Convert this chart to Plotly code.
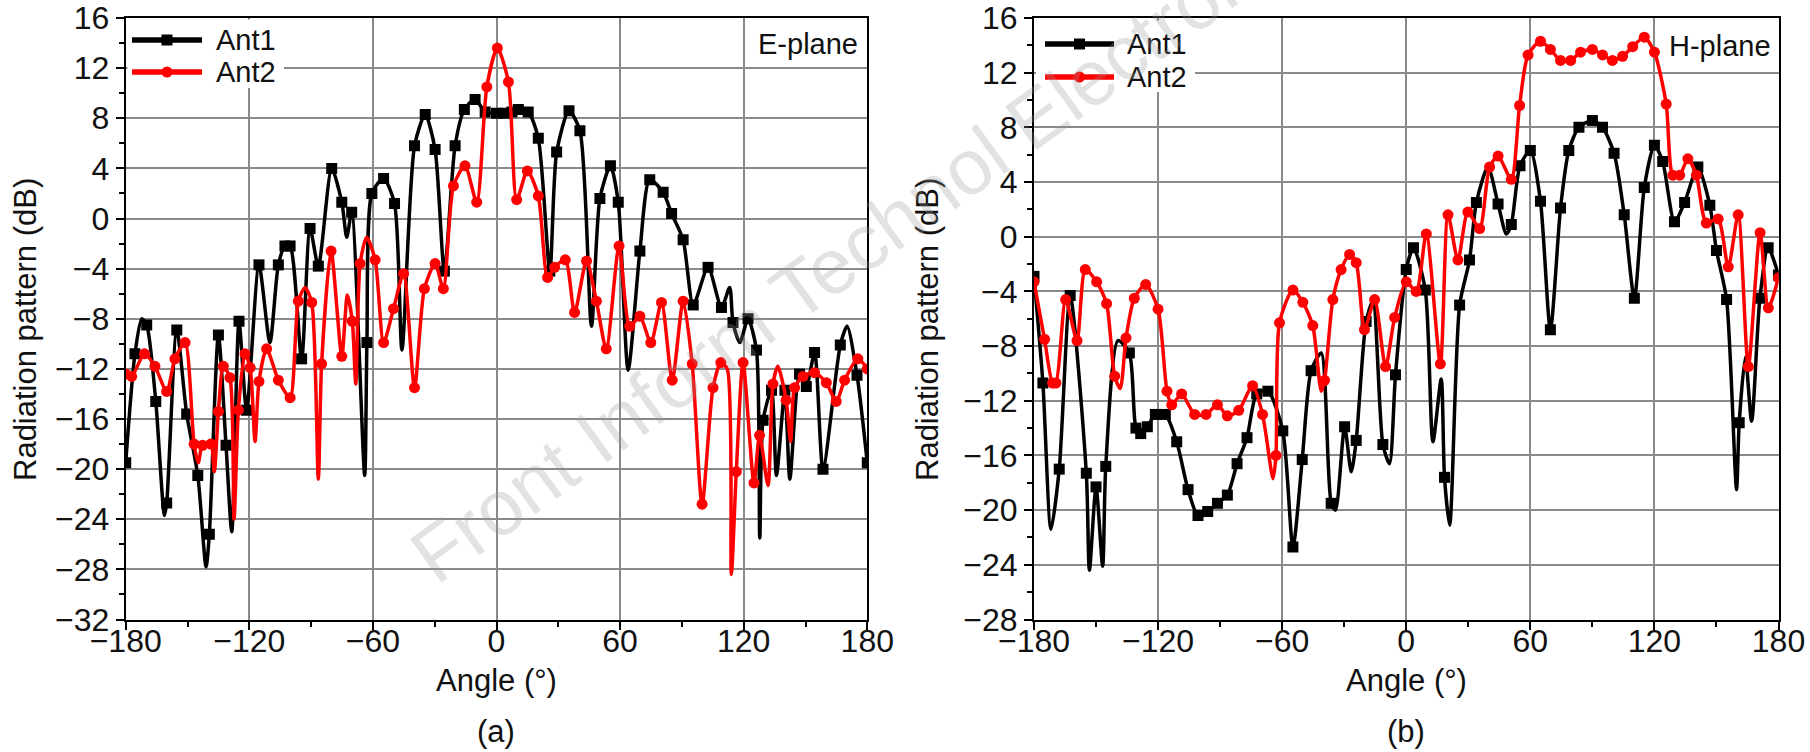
import plotly.graph_objects as go

FONT = "Liberation Sans, Arial, Helvetica, sans-serif"
W, H = 1810, 752

# ---------------- E-plane ----------------
# Ant1: sampled points (drawn with markers) and deep nulls between samples
e_ant1_deg = [-180, -175.5, -169.8, -165.4, -160.1, -155.2, -150.4, -145, -139.4, -135,
              -131.3, -125, -121.3, -115.3, -105.9, -102.7, -100.2, -94.6, -90.5, -86.5,
              -80, -75.1, -70.3, -62.9, -60.5, -54.8, -49.5, -39.8, -34.6, -29.8,
              -25.3, -20.1, -15.6, -10.4, -5.5, 0, 4, 7.5, 10.6, 15.4,
              20.3, 25.9, 29.2, 35.2, 40.5, 50.2, 55.3, 59.1, 69.6, 74.4,
              80.9, 85, 90.6, 95.5, 102.7, 109.2, 114.8, 122.1, 126.2, 129.4,
              133.5, 140, 147.1, 150.4, 154.4, 158.5, 166.9, 175, 180]
e_ant1_db = [-19.5, -10.8, -8.5, -14.6, -22.7, -8.9, -15.6, -20.5, -25.2, -9.3,
             -18.1, -8.2, -15.3, -3.7, -3.7, -2.2, -2.2, -11.2, -0.8, -3.8,
             4.0, 1.3, 0.5, -9.9, 2.0, 3.2, 1.2, 5.8, 8.3, 5.5,
             -4.2, 5.8, 8.7, 9.5, 8.5, 8.4, 8.4, 8.5, 8.7, 8.5,
             6.4, -4.2, 5.3, 8.6, 7.0, 1.6, 4.2, 1.3, -2.6, 3.1,
             2.1, 0.4, -1.7, -6.9, -3.9, -7.1, -8.3, -8.0, -10.5, -16.1,
             -13.7, -13.7, -12.4, -13.4, -10.7, -20.0, -10.1, -12.5, -19.5]
e_ant1_null_deg = [-172.2, -161.2, -141, -128.5, -110, -72.7, -64, -45.9, 46.1, 63.9,
                   113.2, 118.1, 127.8, 135.9, 142.4, 170.2]
e_ant1_null_db = [-8.0, -23.7, -27.8, -25.0, -9.9, -1.5, -20.5, -10.5, -8.6, -12.1,
                  -5.5, -9.9, -25.5, -20.5, -20.8, -8.6]

e_ant2_deg = [-180, -177.1, -170.9, -165.8, -160.1, -156.1, -151.2, -146.8, -142.7, -138.7,
              -135, -132.6, -129.4, -125.3, -122.1, -119.6, -115.3, -111.6, -105.9, -100.2,
              -96.2, -89.7, -84.9, -80.3, -75.1, -70, -66.2, -58.9, -54.8, -50,
              -45.1, -39.8, -35, -29.8, -25.8, -20.9, -15.3, -9.6, -4.7, 0.4,
              5.8, 9.8, 15, 20.3, 24.8, 28.2, 33.4, 37.9, 43.7, 48.5,
              53.3, 59.5, 64.7, 69.6, 74.9, 80.1, 85.3, 90.6, 95, 99.8,
              105.1, 108.9, 116.4, 119.7, 125, 127.7, 134.2, 140.6, 144.7, 148.8,
              154.4, 160.1, 164.9, 169, 175.4, 180]
e_ant2_db = [-12.4, -12.6, -10.8, -11.8, -13.8, -11.2, -9.9, -18.0, -18.1, -18.0,
             -15.4, -11.8, -12.7, -15.3, -10.8, -11.9, -13.0, -10.4, -12.9, -14.3,
             -6.6, -6.7, -11.6, -2.6, -11.0, -8.2, -3.6, -3.3, -9.9, -7.2,
             -4.4, -13.5, -5.6, -3.6, -5.6, 2.6, 4.2, 1.3, 10.5, 13.6,
             10.9, 1.5, 3.8, 1.8, -4.7, -3.9, -3.3, -7.5, -3.4, -6.6,
             -10.4, -2.2, -8.6, -7.8, -9.9, -6.7, -12.9, -6.6, -11.6, -22.8,
             -13.5, -11.5, -20.2, -11.5, -21.1, -17.3, -13.2, -14.5, -13.5, -12.6,
             -12.3, -13.1, -14.6, -12.9, -11.2, -12.0]
e_ant2_null_deg = [-144.8, -137, -127.4, -117.2, -92.9, -86.5, -72.4, -68.3, -63, 112,
                   114, 131.8, 136.6, 142.8]
e_ant2_null_db = [-19.5, -20.2, -24.0, -17.8, -5.5, -20.8, -6.1, -13.2, -1.5, -12.0,
                  -28.4, -21.3, -11.8, -17.8]

# ---------------- H-plane ----------------
h_ant1_deg = [-180, -175.7, -167.8, -162.5, -154.7, -150, -145.3, -133.9, -130.7, -128.4,
              -125.2, -121.3, -116.5, -111, -105.5, -100.7, -96, -91.3, -86.5, -81.8,
              -77, -72.3, -66.9, -59.7, -54.8, -50.3, -46, -36.3, -29.8, -24.2,
              -19.4, -11.3, -5.2, 0, 3.5, 9.2, 18.5, 25.8, 30.6, 33.9,
              44.4, 50.8, 55, 60, 64.9, 69.7, 74.6, 78.6, 83.5, 90,
              94.9, 100.5, 105.4, 110.3, 115.1, 120, 124, 129.7, 134.6, 141,
              146.8, 150, 154.9, 161, 171, 175, 180]
h_ant1_db = [-2.9, -10.7, -17.0, -4.3, -17.3, -18.3, -16.8, -8.5, -14.0, -14.4,
             -13.9, -13.0, -13.0, -15.0, -18.5, -20.4, -20.1, -19.5, -18.9, -16.6,
             -14.7, -11.5, -11.3, -14.2, -22.7, -16.3, -9.8, -19.5, -13.9, -14.9,
             -6.2, -15.2, -10.1, -2.4, -0.8, -3.9, -17.6, -5.0, -1.7, 2.5,
             2.4, 0.9, 5.2, 6.3, 2.6, -6.8, 2.1, 6.3, 8.0, 8.5,
             8.0, 6.1, 1.6, -4.5, 3.6, 6.7, 5.5, 1.1, 2.5, 5.1,
             2.3, -1.0, -4.6, -13.6, -4.5, -0.8, -2.8]
h_ant1_null_deg = [-171.8, -153.2, -146.8, -139.4, -41.1, -34.2, -26.6, -16.1, -8.1, 12.9,
                   16.9, 21, 39.5, 48.4, 159.7, 164, 167]
h_ant1_null_db = [-21.4, -24.4, -24.1, -7.6, -8.5, -20.0, -17.2, -4.7, -16.6, -15.0,
                  -10.4, -21.1, 5.1, 0.2, -18.5, -8.8, -13.5]

h_ant2_deg = [-180, -174.9, -171, -169.4, -164.7, -159.2, -155.2, -149.7, -144.9, -141,
              -135.5, -131.5, -126, -120, -115.7, -113.4, -108.6, -102.3, -96.8, -91.3,
              -86.5, -81, -74.3, -69.5, -63, -61.3, -54.8, -50, -45.2, -39.5,
              -35.5, -31.5, -27.4, -24.2, -20.2, -15.3, -10, -5.6, 0, 4.8,
              9.7, 16.5, 20.2, 25, 29.8, 35.5, 40.3, 44.4, 50.8, 54.8,
              58.9, 64.9, 69.7, 74.6, 79.5, 84.3, 90, 94.9, 99.7, 104.6,
              109.5, 115.1, 120, 125.7, 128.9, 132.2, 136.2, 140.3, 145.1, 150.8,
              155.7, 160.5, 165.4, 171.1, 175.1, 180]
h_ant2_db = [-3.3, -7.5, -10.7, -10.7, -4.6, -7.6, -2.4, -3.3, -4.9, -10.2,
             -7.4, -4.5, -3.5, -5.3, -11.3, -12.3, -11.5, -13.0, -13.0, -12.3,
             -13.1, -12.7, -10.9, -13.0, -16.0, -6.3, -3.9, -4.8, -6.5, -10.5,
             -4.6, -2.4, -1.3, -1.9, -6.8, -4.6, -9.5, -5.9, -3.3, -4.0,
             0.2, -9.3, 1.6, -1.7, 1.8, 0.6, 5.1, 5.9, 4.2, 9.6,
             13.3, 14.3, 13.7, 12.9, 12.9, 13.5, 13.7, 13.3, 12.9, 13.2,
             13.9, 14.6, 13.5, 9.7, 4.5, 4.5, 5.7, 4.5, 1.0, 1.3,
             -2.2, 1.6, -9.5, 0.3, -5.2, -3.0]
h_ant2_null_deg = [-138.3, -64.4, -41.1]
h_ant2_null_db = [-11.1, -17.7, -11.3]

series_names = ["Ant1", "Ant2"]
plane_labels = ["E-plane", "H-plane"]
panel_labels = ["(a)", "(b)"]
x_ticks = [-180, -120, -60, 0, 60, 120, 180]
x_minor_ticks = [-150, -90, -30, 30, 90, 150]
e_y_range = [-32, 16]
h_y_range = [-28, 16]

COLORS = {"Ant1": "#000000", "Ant2": "#ff0000"}
SYMBOLS = {"Ant1": "square", "Ant2": "circle"}
SIZES = {"Ant1": 11, "Ant2": 11}


def px_x(p):
    return p / W


def px_y(p):
    return 1 - p / H


def curve(deg, db, null_deg, null_db):
    pts = sorted(zip(list(deg) + list(null_deg), list(db) + list(null_db)))
    return [p[0] for p in pts], [p[1] for p in pts]


fig = go.Figure()

panels = [
    ("x", "y", [(e_ant1_deg, e_ant1_db, e_ant1_null_deg, e_ant1_null_db),
                (e_ant2_deg, e_ant2_db, e_ant2_null_deg, e_ant2_null_db)]),
    ("x2", "y2", [(h_ant1_deg, h_ant1_db, h_ant1_null_deg, h_ant1_null_db),
                  (h_ant2_deg, h_ant2_db, h_ant2_null_deg, h_ant2_null_db)]),
]

for xa, ya, data in panels:
    for name, (deg, db, nd, ndb) in zip(series_names, data):
        cx, cy = curve(deg, db, nd, ndb)
        fig.add_trace(go.Scatter(
            x=cx, y=cy, mode="lines", xaxis=xa, yaxis=ya, showlegend=False,
            line=dict(color=COLORS[name], width=3.5, shape="spline", smoothing=0.7),
            hoverinfo="skip"))
        fig.add_trace(go.Scatter(
            x=deg, y=db, mode="markers", xaxis=xa, yaxis=ya, showlegend=False,
            name=name,
            marker=dict(symbol=SYMBOLS[name], size=SIZES[name], color=COLORS[name],
                        line=dict(width=0))))

tick_font = dict(family=FONT, size=32, color="#111111")
axis_common = dict(
    showgrid=True, gridcolor="#8a8a8a", gridwidth=2,
    showline=True, linecolor="#000000", linewidth=2, mirror=True,
    ticks="outside", ticklen=8, tickwidth=1.5, tickcolor="#000000",
    zeroline=False, tickfont=tick_font, automargin=False,
)
minor_x = dict(tickvals=x_minor_ticks, ticklen=5, tickwidth=1.5,
               tickcolor="#000000", showgrid=False)
minor_y = dict(dtick=2, tick0=0, ticklen=5, tickwidth=1.5,
               tickcolor="#000000", showgrid=False)

left_dom = [px_x(125.7), px_x(867.3)]
right_dom = [px_x(1034), px_x(1778.5)]
y_dom = [px_y(619.5), px_y(18)]

fig.update_layout(
    width=W, height=H,
    margin=dict(l=0, r=0, t=0, b=0, pad=0, autoexpand=False),
    paper_bgcolor="white", plot_bgcolor="white",
    showlegend=False,
    xaxis=dict(domain=left_dom, range=[-180, 180], tickvals=x_ticks, anchor="y",
               minor=minor_x, ticklabelstandoff=-16, **axis_common),
    yaxis=dict(domain=y_dom, range=e_y_range, dtick=4, tick0=0, anchor="x",
               minor=minor_y, **axis_common),
    xaxis2=dict(domain=right_dom, range=[-180, 180], tickvals=x_ticks, anchor="y2",
                minor=minor_x, ticklabelstandoff=-16, **axis_common),
    yaxis2=dict(domain=y_dom, range=h_y_range, dtick=4, tick0=0, anchor="x2",
                minor=minor_y, **axis_common),
)

shapes = []
annotations = []
text_font = dict(family=FONT, size=29, color="#111111")
title_font = dict(family=FONT, size=31, color="#111111")

# Hand-drawn legends (long line samples with a marker in the middle)
legend_boxes = [
    dict(box=(127.5, 19.5, 284, 88), x0=132, x1=202, rows=(40, 72), tx=214),
    dict(box=(1036, 20.5, 1195, 92), x0=1045, x1=1114, rows=(44, 77), tx=1125),
]
for lb in legend_boxes:
    bx0, by0, bx1, by1 = lb["box"]
    shapes.append(dict(type="rect", xref="paper", yref="paper",
                       x0=px_x(bx0), x1=px_x(bx1), y0=px_y(by1), y1=px_y(by0),
                       fillcolor="white", line=dict(width=0), layer="above"))
    for name, ry in zip(series_names, lb["rows"]):
        col = COLORS[name]
        shapes.append(dict(type="line", xref="paper", yref="paper",
                           x0=px_x(lb["x0"]), x1=px_x(lb["x1"]),
                           y0=px_y(ry), y1=px_y(ry),
                           line=dict(color=col, width=5.5), layer="above"))
        cxm = (lb["x0"] + lb["x1"]) / 2
        r = SIZES[name] / 2
        shapes.append(dict(type="rect" if name == "Ant1" else "circle",
                           xref="paper", yref="paper",
                           x0=px_x(cxm - r), x1=px_x(cxm + r),
                           y0=px_y(ry + r), y1=px_y(ry - r),
                           fillcolor=col, line=dict(width=0), layer="above"))
        annotations.append(dict(xref="paper", yref="paper", x=px_x(lb["tx"]), y=px_y(ry),
                                text=name, showarrow=False, xanchor="left",
                                yanchor="middle", font=text_font))

# Plane labels
for label, xr, yc in zip(plane_labels, (860, 1773), (44, 46)):
    annotations.append(dict(xref="paper", yref="paper", x=px_x(xr), y=px_y(yc),
                            text=label, showarrow=False, xanchor="right",
                            yanchor="middle", font=text_font))

# Axis titles and panel captions
for cx, ytx, cap in zip((496.5, 1406), (25, 927), panel_labels):
    annotations.append(dict(xref="paper", yref="paper", x=px_x(cx), y=px_y(680),
                            text="Angle (°)", showarrow=False, xanchor="center",
                            yanchor="middle", font=title_font))
    annotations.append(dict(xref="paper", yref="paper", x=px_x(ytx), y=px_y(330),
                            text="Radiation pattern (dB)", showarrow=False,
                            textangle=-90, xanchor="center", yanchor="middle",
                            font=title_font))
    annotations.append(dict(xref="paper", yref="paper", x=px_x(cx), y=px_y(731),
                            text=cap, showarrow=False, xanchor="center",
                            yanchor="middle", font=title_font))

# Journal watermark
annotations.append(dict(xref="paper", yref="paper", x=px_x(834), y=px_y(264),
                        text="Front Inform Technol Electron", showarrow=False,
                        textangle=-36, xanchor="center", yanchor="middle",
                        font=dict(family=FONT, size=78, color="rgba(150,150,150,0.28)")))

fig.update_layout(shapes=shapes, annotations=annotations)

fig.write_html("out.html")
